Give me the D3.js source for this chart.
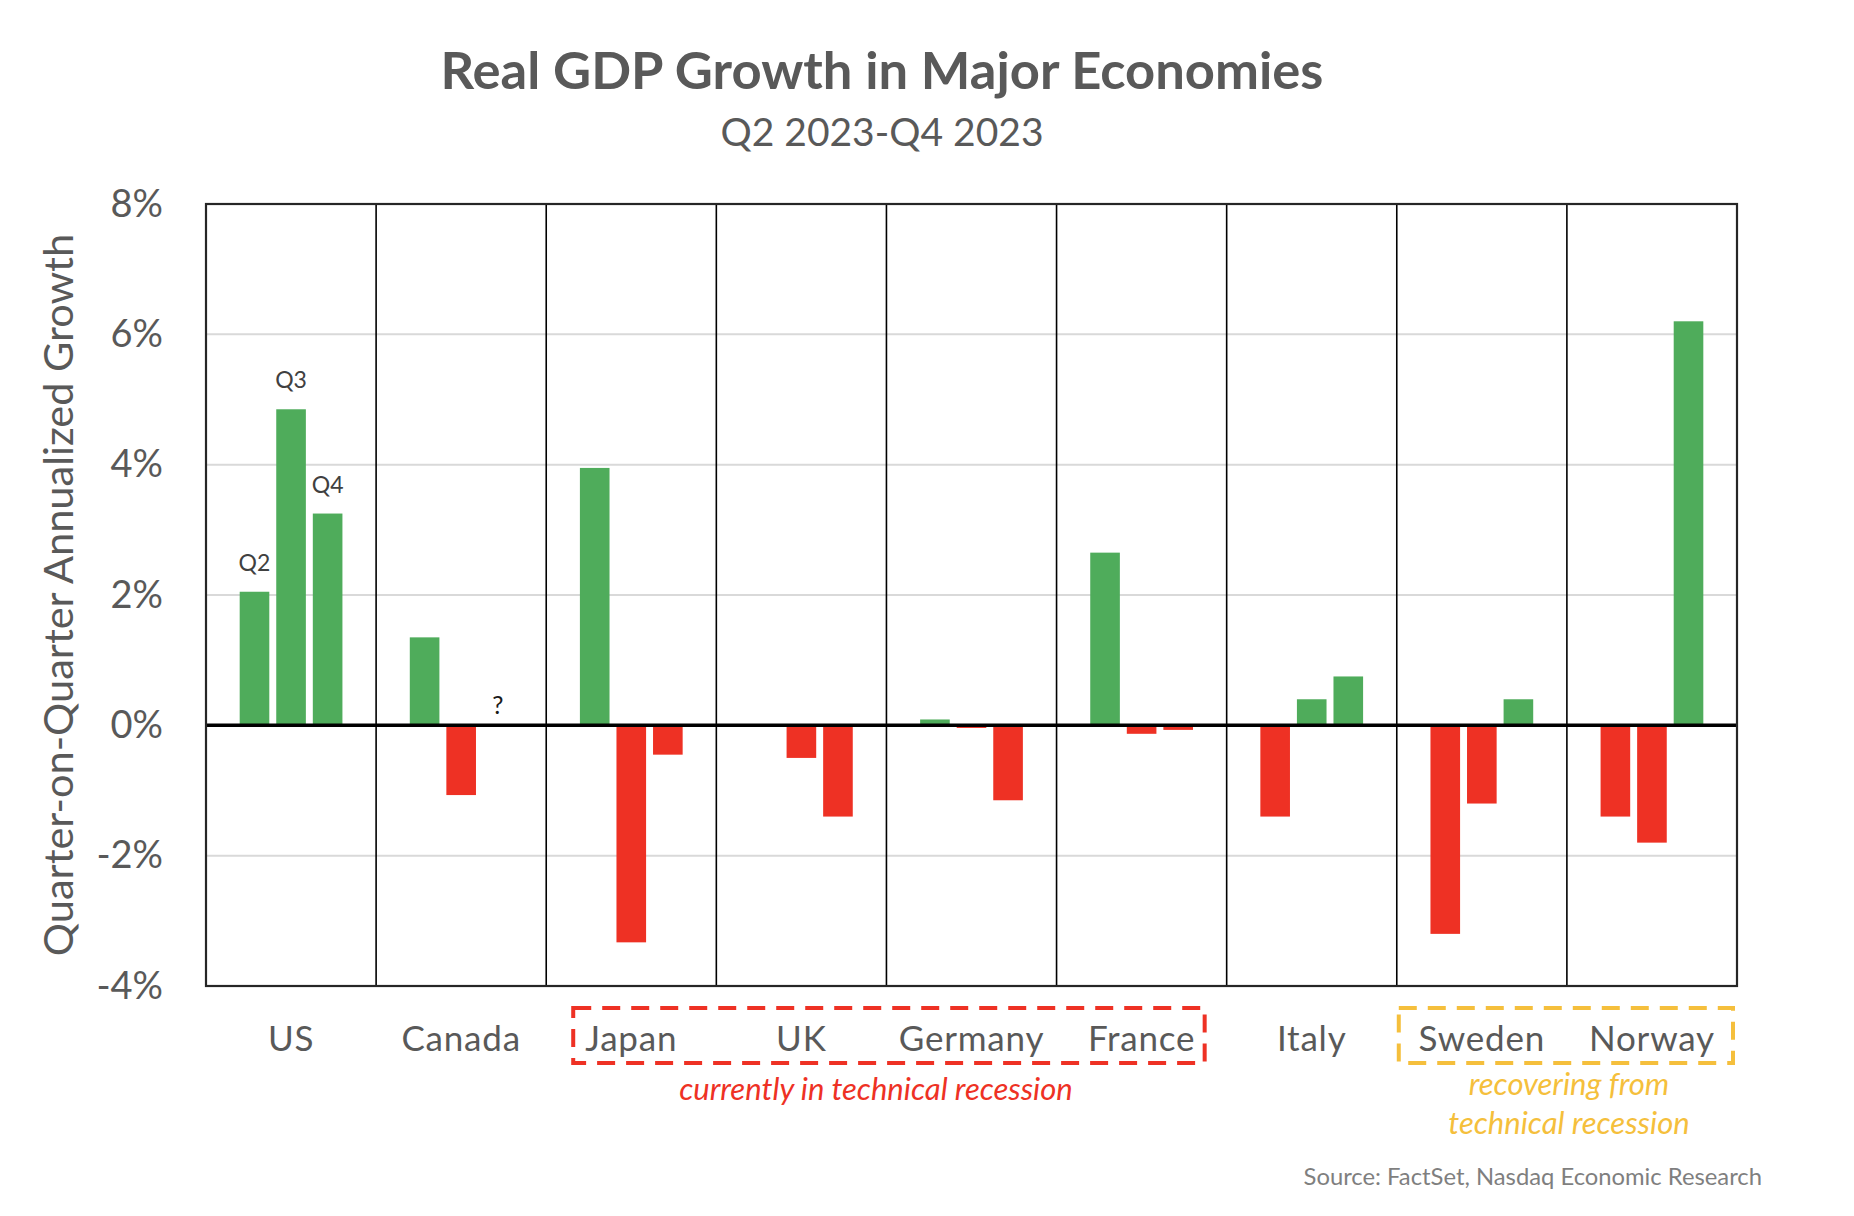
<!DOCTYPE html>
<html>
<head>
<meta charset="utf-8">
<script src="https://cdn.jsdelivr.net/npm/d3@7"></script>
<style>
  html, body { margin: 0; padding: 0; background: #ffffff; }
  svg { display: block; }
  text { font-family: Lato, "Open Sans", sans-serif; }
</style>
</head>
<body>
<svg id="chart" width="1854" height="1216"></svg>
<script>
// ---- data ----
const countries = ["US", "Canada", "Japan", "UK", "Germany", "France", "Italy", "Sweden", "Norway"];
const quarters = ["Q2", "Q3", "Q4"];
const q2Values = [2.05, 1.35, 3.95, 0.0, 0.09, 2.65, -1.4, -3.2, -1.4];
const q3Values = [4.85, -1.07, -3.33, -0.5, -0.04, -0.13, 0.4, -1.2, -1.8];
const q4Values = [3.25, null, -0.45, -1.4, -1.15, -0.07, 0.75, 0.4, 6.2];
const yTicks = [-4, -2, 0, 2, 4, 6, 8];
const gridTicks = [-2, 2, 4, 6];
const recessionGroup = ["Japan", "UK", "Germany", "France"];
const recoveringGroup = ["Sweden", "Norway"];
const titleText = "Real GDP Growth in Major Economies";
const subtitleText = "Q2 2023-Q4 2023";
const yAxisTitle = "Quarter-on-Quarter Annualized Growth";
const sourceText = "Source: FactSet, Nasdaq Economic Research";
const recessionNote = ["currently in technical recession"];
const recoveringNote = ["recovering from", "technical recession"];

const seriesByQuarter = { Q2: q2Values, Q3: q3Values, Q4: q4Values };
const rows = [];
countries.forEach((c, i) => {
  quarters.forEach(q => rows.push({ country: c, quarter: q, value: seriesByQuarter[q][i] }));
});

// ---- layout ----
const GREEN = "#4fac5b", RED = "#ee3124", YELLOW = "#f5bf3c", GRAY = "#595959";
const svg = d3.select("#chart");
const plot = { left: 206, right: 1737, top: 204, bottom: 986 };

const x = d3.scaleBand().domain(countries).range([plot.left, plot.right]).padding(0);
const bw = x.bandwidth();
const x1 = d3.scaleBand().domain(quarters).range([-0.302 * bw, 0.302 * bw]).paddingInner(0.19);
const y = d3.scaleLinear().domain([-4, 8]).range([plot.bottom, plot.top]);

// gridlines
svg.append("g").selectAll("line").data(gridTicks).join("line")
  .attr("x1", plot.left).attr("x2", plot.right)
  .attr("y1", d => y(d)).attr("y2", d => y(d))
  .attr("stroke", "#d9d9d9").attr("stroke-width", 2);

// bars
const center = c => x(c) + bw / 2;
svg.append("g").selectAll("rect").data(rows.filter(r => r.value !== null)).join("rect")
  .attr("x", d => center(d.country) + x1(d.quarter))
  .attr("width", x1.bandwidth())
  .attr("y", d => y(Math.max(0, d.value)))
  .attr("height", d => Math.abs(y(d.value) - y(0)))
  .attr("fill", d => d.value >= 0 ? GREEN : RED);

// category dividers
svg.append("g").selectAll("line").data(countries.slice(1)).join("line")
  .attr("x1", d => x(d)).attr("x2", d => x(d))
  .attr("y1", plot.top).attr("y2", plot.bottom)
  .attr("stroke", "#000").attr("stroke-width", 1.6);

// zero line
svg.append("line")
  .attr("x1", plot.left).attr("x2", plot.right)
  .attr("y1", y(0)).attr("y2", y(0))
  .attr("stroke", "#000").attr("stroke-width", 3.5);

// plot border
svg.append("rect")
  .attr("x", plot.left).attr("y", plot.top)
  .attr("width", plot.right - plot.left).attr("height", plot.bottom - plot.top)
  .attr("fill", "none").attr("stroke", "#262626").attr("stroke-width", 2.2);

// y axis labels
const yAxis = d3.axisLeft(y).tickValues(yTicks).tickFormat(d => d + "%").tickSize(0).tickPadding(0);
const yg = svg.append("g").attr("transform", `translate(${plot.left - 43},0)`).call(yAxis);
yg.select(".domain").remove();
yg.selectAll("text")
  .attr("font-family", "Lato, sans-serif")
  .attr("font-size", 38).attr("fill", GRAY);

// category labels
svg.append("g").selectAll("text").data(countries).join("text")
  .attr("x", d => center(d)).attr("y", 1051)
  .attr("text-anchor", "middle")
  .attr("font-size", 35).attr("letter-spacing", 0.8).attr("fill", GRAY)
  .text(d => d);

// quarter labels above US bars
svg.append("g").selectAll("text").data(rows.filter(r => r.country === "US")).join("text")
  .attr("x", d => center(d.country) + x1(d.quarter) + x1.bandwidth() / 2)
  .attr("y", d => y(d.value) - 21)
  .attr("text-anchor", "middle")
  .attr("font-size", 23).attr("fill", "#404040")
  .text(d => d.quarter);

// question mark for missing value
rows.filter(r => r.value === null).forEach(d => {
  svg.append("text")
    .attr("x", center(d.country) + x1(d.quarter) + x1.bandwidth() / 2)
    .attr("y", y(0) - 11)
    .attr("text-anchor", "middle")
    .attr("font-size", 25).attr("fill", "#1a1a1a")
    .text("?");
});

// title + subtitle
svg.append("text").attr("x", 882).attr("y", 89).attr("text-anchor", "middle")
  .attr("font-size", 52.5).attr("font-weight", 700).attr("fill", GRAY).text(titleText);
svg.append("text").attr("x", 882).attr("y", 146).attr("text-anchor", "middle")
  .attr("font-size", 39).attr("fill", GRAY).text(subtitleText);

// y axis title
svg.append("text")
  .attr("transform", `translate(73,${(plot.top + plot.bottom) / 2}) rotate(-90)`)
  .attr("text-anchor", "middle")
  .attr("font-size", 41.5).attr("fill", GRAY)
  .text(yAxisTitle);

// group boxes
function groupBox(group, color, padL, padR) {
  const x0 = x(group[0]) + padL;
  const xEnd = x(group[group.length - 1]) + bw - padR;
  svg.append("rect")
    .attr("x", x0).attr("y", 1008).attr("width", xEnd - x0).attr("height", 55)
    .attr("fill", "none").attr("stroke", color).attr("stroke-width", 4)
    .attr("stroke-dasharray", "18,11");
}
groupBox(recessionGroup, RED, 27, 22);
groupBox(recoveringGroup, YELLOW, 2, 4);

svg.append("g").selectAll("text").data(recessionNote).join("text")
  .attr("x", 876).attr("y", (d, i) => 1100 + i * 39)
  .attr("text-anchor", "middle").attr("font-size", 31).attr("font-style", "italic")
  .attr("fill", RED).text(d => d);

svg.append("g").selectAll("text").data(recoveringNote).join("text")
  .attr("x", 1569).attr("y", (d, i) => 1095 + i * 39)
  .attr("text-anchor", "middle").attr("font-size", 31).attr("font-style", "italic")
  .attr("fill", YELLOW).text(d => d);

// source
svg.append("text").attr("x", 1762).attr("y", 1185).attr("text-anchor", "end")
  .attr("font-size", 23.8).attr("fill", "#7f7f7f").text(sourceText);
</script>
</body>
</html>
